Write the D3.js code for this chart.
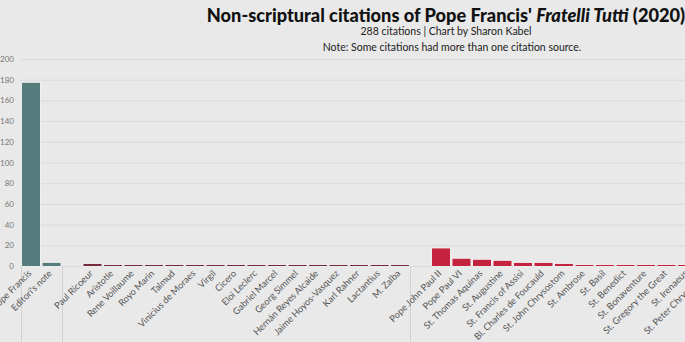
<!DOCTYPE html>
<html>
<head>
<meta charset="utf-8">
<script src="https://cdn.jsdelivr.net/npm/d3@7"></script>
<style>
  body { margin: 0; background: #e9e9e9; overflow: hidden; }
  svg { display: block; font-family: Lato, "Open Sans", sans-serif; }
</style>
</head>
<body>
<script>
// three groups of citation sources
var selfNames = ["Pope Francis", "Editori's note"];
var selfValues = [177, 3];

var otherNames = ["Paul Ricoeur", "Aristotle", "Rene Voillaume", "Royo Marin", "Talmud",
  "Vinicius de Moraes", "Virgil", "Cicero", "Eloi Leclerc", "Gabriel Marcel", "Georg Simmel",
  "Hernán Reyes Alcaide", "Jaime Hoyos-Vasquez", "Karl Rahner", "Lactantius", "M. Zalba"];
var otherValues = [2, 1, 1, 1, 1, 1, 1, 1, 1, 1, 1, 1, 1, 1, 1, 1];

var churchNames = ["Pope John Paul II", "Pope Paul VI", "St. Thomas Aquinas", "St. Augustine",
  "St. Francis of Assisi", "Bl. Charles de Foucauld", "St. John Chrysostom", "St. Ambrose",
  "St. Basil", "St. Benedict", "St. Bonaventure", "St. Gregory the Great", "St. Irenaeus",
  "St. Peter Chrysologus"];
var churchValues = [17, 7, 6, 5, 3, 3, 2, 1, 1, 1, 1, 1, 1, 1];

var yTicks = [0, 20, 40, 60, 80, 100, 120, 140, 160, 180, 200];

var groupColors = ["#567b7d", "#742b3c", "#c3233f"];

var width = 685,
    height = 342;

var svg = d3.select("body").append("svg")
  .attr("width", width)
  .attr("height", height);

// flatten into one domain, with an empty slot opening each later group
var rows = [];
var domain = [];
[[selfNames, selfValues], [otherNames, otherValues], [churchNames, churchValues]].forEach((g, gi) => {
  if (gi > 0) domain.push("__gap" + gi);
  g[0].forEach((n, i) => {
    rows.push({ name: n, value: g[1][i], group: gi });
    domain.push(n);
  });
});

var step = 20.5;
var x = d3.scaleBand()
  .domain(domain)
  .range([20.75, 20.75 + step * domain.length])
  .paddingInner(0.12)
  .paddingOuter(0.06);

var y = d3.scaleLinear()
  .domain([0, 200])
  .range([266, 59]);

// gridlines
svg.append("g")
  .selectAll("line")
  .data(yTicks).enter()
  .append("line")
  .attr("x1", 20)
  .attr("x2", width)
  .attr("y1", d => y(d) + 0.5)
  .attr("y2", d => y(d) + 0.5)
  .attr("stroke", "#dadada")
  .attr("stroke-width", 1);

svg.append("g")
  .selectAll("text")
  .data(yTicks).enter()
  .append("text")
  .attr("x", 14)
  .attr("y", d => y(d) + 3)
  .attr("text-anchor", "end")
  .attr("font-size", 8)
  .attr("fill", "#777")
  .text(d => d);

// pane separators below the baseline
var seps = [domain[0], "__gap1", "__gap2"];
svg.append("g")
  .selectAll("line")
  .data(seps).enter()
  .append("line")
  .attr("x1", d => Math.round(x(d) - x.step() * x.paddingInner() / 2) + 0.5)
  .attr("x2", d => Math.round(x(d) - x.step() * x.paddingInner() / 2) + 0.5)
  .attr("y1", y(0))
  .attr("y2", height)
  .attr("stroke", "#d2d2d2");

// bars, with a light halo like the original
svg.append("g")
  .selectAll("rect")
  .data(rows).enter()
  .append("rect")
  .attr("x", d => x(d.name))
  .attr("width", x.bandwidth())
  .attr("y", d => y(d.value))
  .attr("height", d => y(0) - y(d.value))
  .attr("fill", d => groupColors[d.group])
  .attr("stroke", "#f6f6f6")
  .attr("stroke-width", 1.4)
  .style("paint-order", "stroke");

// category labels
svg.append("g")
  .selectAll("text")
  .data(rows).enter()
  .append("text")
  .attr("transform", d => "translate(" + (x(d.name) + x.bandwidth() / 2 + 1) + "," + 274 + ") rotate(-45)")
  .attr("text-anchor", "end")
  .attr("font-size", 9.2)
  .attr("fill", "#555")
  .text(d => d.name);

// titles
var title = svg.append("text")
  .attr("x", 446)
  .attr("y", 22)
  .attr("text-anchor", "middle")
  .attr("font-size", 18.2)
  .attr("font-weight", "900")
  .attr("fill", "#111");
title.append("tspan").text("Non-scriptural citations of Pope Francis' ");
title.append("tspan").attr("font-style", "italic").text("Fratelli Tutti");
title.append("tspan").text(" (2020)");

svg.append("text")
  .attr("x", 446)
  .attr("y", 35)
  .attr("text-anchor", "middle")
  .attr("font-size", 10.5)
  .attr("fill", "#222")
  .text("288 citations | Chart by Sharon Kabel");

svg.append("text")
  .attr("x", 452)
  .attr("y", 51)
  .attr("text-anchor", "middle")
  .attr("font-size", 10.5)
  .attr("fill", "#222")
  .text("Note: Some citations had more than one citation source.");
</script>
</body>
</html>
